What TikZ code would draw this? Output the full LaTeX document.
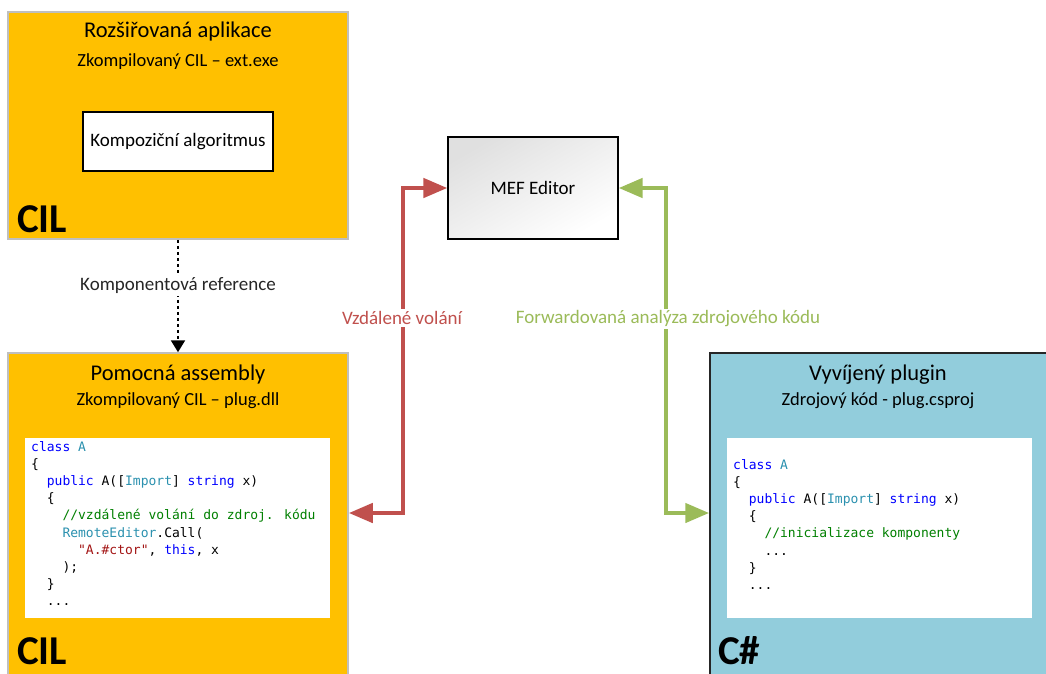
\documentclass[tikz,border=0pt]{standalone}
\usepackage{fontspec}
\setmainfont{Carlito}
\newfontfamily\codefont{DejaVu Sans Mono}
\usetikzlibrary{arrows.meta}
\definecolor{cilorange}{RGB}{255,192,0}
\definecolor{csblue}{RGB}{146,205,220}
\definecolor{remred}{RGB}{192,80,77}
\definecolor{fwdgreen}{RGB}{155,187,89}
\definecolor{lightborder}{RGB}{191,191,191}
\definecolor{darkborder}{RGB}{38,38,38}
\definecolor{kw}{RGB}{0,0,255}
\definecolor{ty}{RGB}{43,145,175}
\definecolor{cm}{RGB}{0,128,0}
\definecolor{st}{RGB}{163,21,21}
\newcommand{\ind}[1]{\phantom{#1}}
\tikzset{
  cilbox/.style={draw=lightborder, line width=1.5pt, fill=cilorange, inner sep=0pt},
  csbox/.style={draw=darkborder, line width=1.5pt, fill=csblue, inner sep=0pt},
  codebox/.style={fill=white, inner sep=0pt, minimum width=305pt, minimum height=180pt},
  codetext/.style={anchor=north west, inner sep=0pt, align=left, font=\codefont\fontsize{13}{17.2}\selectfont},
  titletext/.style={font=\fontsize{22.5}{26}\selectfont, inner sep=0pt},
  subtext/.style={font=\fontsize{18.5}{22}\selectfont, inner sep=0pt},
  langtext/.style={font=\bfseries\fontsize{41}{42}\selectfont, inner sep=0pt, anchor=base west},
  lbl/.style={font=\fontsize{19}{22}\selectfont, fill=white, inner sep=2pt},
  bigarrow/.style={line width=4.5pt, {Triangle[length=24pt,width=19pt]}-{Triangle[length=24pt,width=19pt]}},
}
\begin{document}
\begin{tikzpicture}[x=1pt,y=-1pt]
\useasboundingbox (0,0) rectangle (1046,673);
\clip (0,0) rectangle (1046,673);

% top CIL box
\node[cilbox, minimum width=340pt, minimum height=227pt] (boxT) at (178,125.5) {};
\node[titletext, anchor=base] (titleT) at (178,37) {Rozšiřovaná aplikace};
\node[subtext, anchor=base] (subT) at (178,66) {Zkompilovaný CIL – ext.exe};
\node[draw=black, line width=1.2pt, fill=white, minimum width=190pt, minimum height=59pt, inner sep=0pt, font=\fontsize{19}{22}\selectfont] (algo) at (178,141.5) {Kompoziční algoritmus};
\node[langtext] (cilT) at (17,232) {CIL};

% bottom-left CIL box
\node[cilbox, minimum width=340pt, minimum height=350pt] (boxL) at (178,528) {};
\node[titletext, anchor=base] (titleL) at (178,380) {Pomocná assembly};
\node[subtext, anchor=base] (subL) at (178,405) {Zkompilovaný CIL – plug.dll};
\node[codebox] (codeL) at (177.5,528) {};
\node[codetext] (codeLtext) at (31,441) {%
\textcolor{kw}{class} \textcolor{ty}{A}\\
\{\\
\ind{xx}\textcolor{kw}{public} A([\textcolor{ty}{Import}] \textcolor{kw}{string} x)\\
\ind{xx}\{\\
\ind{xxxx}\textcolor{cm}{//vzdálené volání do zdroj. kódu}\\
\ind{xxxx}\textcolor{ty}{RemoteEditor}.Call(\\
\ind{xxxxxx}\textcolor{st}{"A.\#ctor"}, \textcolor{kw}{this}, x\\
\ind{xxxx});\\
\ind{xx}\}\\
\ind{xx}...};
\node[langtext] (cilL) at (17,664) {CIL};

% right C# box
\node[csbox, minimum width=350pt, minimum height=350pt] (boxR) at (885,528) {};
\node[titletext, anchor=base] (titleR) at (878,380) {Vyvíjený plugin};
\node[subtext, anchor=base] (subR) at (878,405) {Zdrojový kód - plug.csproj};
\node[codebox] (codeR) at (879.5,528) {};
\node[codetext] (codeRtext) at (733,459) {%
\textcolor{kw}{class} \textcolor{ty}{A}\\
\{\\
\ind{xx}\textcolor{kw}{public} A([\textcolor{ty}{Import}] \textcolor{kw}{string} x)\\
\ind{xx}\{\\
\ind{xxxx}\textcolor{cm}{//inicializace komponenty}\\
\ind{xxxx}...\\
\ind{xx}\}\\
\ind{xx}...};
\node[langtext] (csR) at (718,664) {C\#};

% MEF editor
\node[draw=black, line width=1.2pt, top color=black!12, bottom color=white, shading angle=30, minimum width=170pt, minimum height=102pt, inner sep=0pt, font=\fontsize{19}{22}\selectfont] (mef) at (533,188) {MEF Editor};

% dashed reference arrow
\draw[black, line width=2pt, dash pattern=on 3pt off 3pt, -{Triangle[length=12pt,width=14pt]}] (boxT.south) -- (boxL.north)
  node[lbl, solid, pos=0.41, text=black!85] (refLbl) {Komponentová reference};

% remote call arrow
\coordinate (rv) at (403,513);
\draw[remred, bigarrow] (mef.west) -| (rv) -- (boxL.east |- rv);
\node[lbl, text=remred] (remLbl) at (402,318) {Vzdálené volání};

% forwarded analysis arrow
\coordinate (gv) at (666,513);
\draw[fwdgreen, bigarrow] (mef.east) -| (gv) -- (boxR.west |- gv);
\node[lbl, text=fwdgreen] (fwdLbl) at (668,319) {Forwardovaná analýza zdrojového kódu};
\end{tikzpicture}
\end{document}
